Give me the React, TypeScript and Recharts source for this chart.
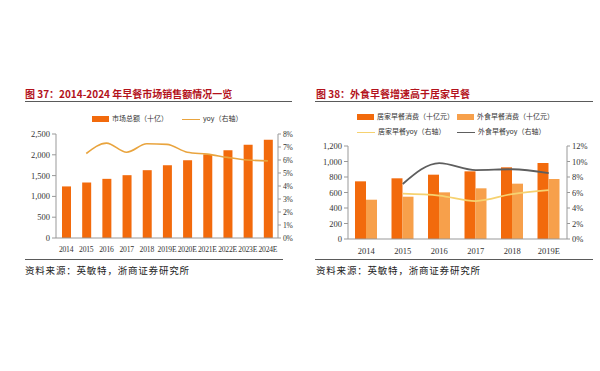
import React from 'react';
import { ComposedChart, Bar, Line, XAxis, YAxis } from 'recharts';

// 图37 data
const years37 = ['2014', '2015', '2016', '2017', '2018', '2019E', '2020E', '2021E', '2022E', '2023E', '2024E'];
const market = [1240, 1334, 1422, 1510, 1630, 1749, 1869, 2010, 2109, 2244, 2364];
const marketYoy = [null, 6.5, 7.3, 6.6, 7.25, 7.2, 6.6, 6.45, 6.2, 6.0, 5.93];

// 图38 data
const years38 = ['2014', '2015', '2016', '2017', '2018', '2019E'];
const homeSpend = [744, 783, 830, 873, 925, 981];
const outSpend = [507, 546, 602, 654, 714, 774];
const homeYoy = [null, 5.85, 5.6, 4.9, 5.8, 6.3];
const outYoy = [null, 7.1, 9.8, 8.9, 9.0, 8.5];

const ticks37L = [0, 500, 1000, 1500, 2000, 2500];
const ticks37R = [0, 1, 2, 3, 4, 5, 6, 7, 8];
const ticks38L = [0, 200, 400, 600, 800, 1000, 1200];
const ticks38R = [0, 2, 4, 6, 8, 10, 12];

const data37 = years37.map((y, i) => ({ year: y, market: market[i], yoy: marketYoy[i] }));
const data38 = years38.map((y, i) => ({
  year: y,
  home: homeSpend[i],
  out: outSpend[i],
  homeYoy: homeYoy[i],
  outYoy: outYoy[i],
}));

const RED = '#F26A0C';
const LIGHT = '#F7A04B';
const GOLD = '#E9A43E';
const YELLOW = '#F6D270';
const DARK = '#5E5E5E';

const serif = '"Liberation Serif", "DejaVu Serif", serif';
const cjk = '"Noto Sans CJK SC", sans-serif';
const tick = { fontSize: 8.5, fill: '#333', fontFamily: serif };
const smallTick = { fontSize: 7.6, fill: '#333', fontFamily: serif, letterSpacing: -0.2 };
const axisLine = { stroke: '#999' };

const fmtNum = (v: number) => v.toLocaleString('en-US');
const fmtPct = (v: number) => `${v}%`;

const titleStyle: React.CSSProperties = {
  position: 'absolute',
  top: 86,
  fontFamily: cjk,
  fontWeight: 700,
  fontSize: 10,
  color: '#B3121B',
  whiteSpace: 'nowrap',
};

const rule = (left: number, top: number, width: number): React.CSSProperties => ({
  position: 'absolute',
  left,
  top,
  width,
  height: 0,
  borderTop: '1.5px solid #5a5a5a',
});

const sourceStyle: React.CSSProperties = {
  position: 'absolute',
  top: 263,
  fontFamily: cjk,
  fontSize: 9.5,
  letterSpacing: 0.8,
  color: '#222',
  whiteSpace: 'nowrap',
};

const legendText: React.CSSProperties = {
  fontFamily: cjk,
  fontSize: 7,
  color: '#333',
  whiteSpace: 'nowrap',
};

function Swatch({ color, line }: { color: string; line?: boolean }) {
  return line ? (
    <span style={{ display: 'inline-block', width: 18, height: 0, borderTop: `1.5px solid ${color}`, marginRight: 3, verticalAlign: 'middle' }} />
  ) : (
    <span style={{ display: 'inline-block', width: 17, height: 6, background: color, marginRight: 3, verticalAlign: 'middle' }} />
  );
}

export default function App() {
  return (
    <div style={{ position: 'fixed', left: 0, top: 0, width: 600, height: 371, background: '#fff', overflow: 'hidden' }}>
      {/* left panel */}
      <div style={{ ...titleStyle, left: 25 }}>图 37：2014-2024 年早餐市场销售额情况一览</div>
      <div style={rule(25, 101, 267)} />
      <div style={{ position: 'absolute', left: 92, top: 113, display: 'flex', alignItems: 'center', gap: 14 }}>
        <span style={legendText}><Swatch color={RED} />市场总额（十亿）</span>
        <span style={legendText}><Swatch color={GOLD} line />yoy（右轴）</span>
      </div>
      <div style={{ position: 'absolute', left: 0, top: 122 }}>
        <ComposedChart width={300} height={136} data={data37} margin={{ top: 12, right: 0, bottom: 0, left: 0 }}>
          <XAxis dataKey="year" tick={smallTick} axisLine={axisLine} tickLine={false} interval={0} height={20} tickMargin={3} />
          <YAxis yAxisId="l" width={56} domain={[0, 2500]} ticks={ticks37L} interval={0} tickFormatter={fmtNum} tick={tick} axisLine={axisLine} tickLine={{ stroke: '#999' }} tickSize={4} />
          <YAxis yAxisId="r" orientation="right" width={22} domain={[0, 8]} ticks={ticks37R} interval={0} tickFormatter={fmtPct} tick={smallTick} axisLine={axisLine} tickLine={{ stroke: '#999' }} tickSize={3} />
          <Bar yAxisId="l" dataKey="market" fill={RED} barSize={9} isAnimationActive={false} />
          <Line yAxisId="r" type="monotone" dataKey="yoy" stroke={GOLD} strokeWidth={1.6} dot={false} isAnimationActive={false} />
        </ComposedChart>
      </div>
      <div style={rule(25, 259, 258)} />
      <div style={{ ...sourceStyle, left: 25 }}>资料来源：英敏特，浙商证券研究所</div>

      {/* right panel */}
      <div style={{ ...titleStyle, left: 316 }}>图 38：外食早餐增速高于居家早餐</div>
      <div style={rule(315, 101, 278)} />
      <div style={{ position: 'absolute', left: 357, top: 111, display: 'grid', gridTemplateColumns: '100px 120px', rowGap: 5 }}>
        <span style={legendText}><Swatch color={RED} />居家早餐消费（十亿元）</span>
        <span style={legendText}><Swatch color={LIGHT} />外食早餐消费（十亿元）</span>
        <span style={legendText}><Swatch color={YELLOW} line />居家早餐yoy（右轴）</span>
        <span style={legendText}><Swatch color={DARK} line />外食早餐yoy（右轴）</span>
      </div>
      <div style={{ position: 'absolute', left: 300, top: 135 }}>
        <ComposedChart width={300} height={124} data={data38} margin={{ top: 11, right: 0, bottom: 0, left: 0 }} barGap={0}>
          <XAxis dataKey="year" tick={tick} axisLine={axisLine} tickLine={false} interval={0} height={20} tickMargin={3} />
          <YAxis yAxisId="l" width={48} domain={[0, 1200]} ticks={ticks38L} interval={0} tickFormatter={fmtNum} tick={tick} axisLine={axisLine} tickLine={{ stroke: '#999' }} tickSize={4} />
          <YAxis yAxisId="r" orientation="right" width={33} domain={[0, 12]} ticks={ticks38R} interval={0} tickFormatter={fmtPct} tick={tick} axisLine={axisLine} tickLine={{ stroke: '#999' }} tickSize={3} />
          <Bar yAxisId="l" dataKey="home" fill={RED} barSize={11} isAnimationActive={false} />
          <Bar yAxisId="l" dataKey="out" fill={LIGHT} barSize={11} isAnimationActive={false} />
          <Line yAxisId="r" type="monotone" dataKey="homeYoy" stroke={YELLOW} strokeWidth={1.8} dot={false} isAnimationActive={false} />
          <Line yAxisId="r" type="monotone" dataKey="outYoy" stroke={DARK} strokeWidth={1.8} dot={false} isAnimationActive={false} />
        </ComposedChart>
      </div>
      <div style={rule(315, 259, 278)} />
      <div style={{ ...sourceStyle, left: 316 }}>资料来源：英敏特，浙商证券研究所</div>
    </div>
  );
}
